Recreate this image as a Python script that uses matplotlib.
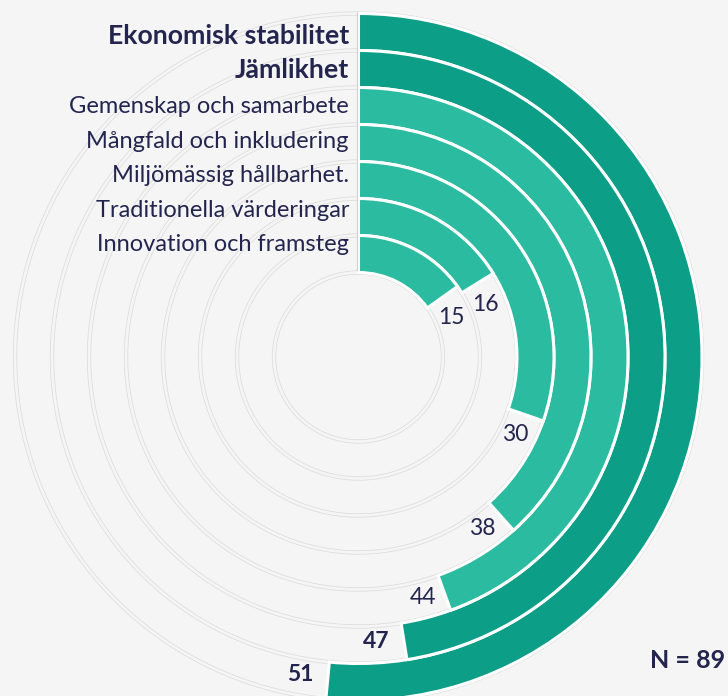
import numpy as np
import matplotlib
matplotlib.use("Agg")
import matplotlib.pyplot as plt
from matplotlib.lines import Line2D

# ---------------- data ----------------
categories = ["Ekonomisk stabilitet", "Jämlikhet", "Gemenskap och samarbete",
              "Mångfald och inkludering", "Miljömässig hållbarhet.",
              "Traditionella värderingar", "Innovation och framsteg"]
values = [51, 47, 44, 38, 30, 16, 15]
highlight = [True, True, False, False, False, False, False]
n_label = "N = 89"

# ---------------- style ----------------
BG = "#f5f5f5"
DARK = "#0d9e87"
LIGHT = "#2bbba0"
TEXT = "#23254f"
TRACK = "#dcdcdc"
FONT = ["Lato", "DejaVu Sans"]

W, H, DPI = 728, 696, 100
FULL = 99.0           # value that corresponds to a full circle
CX, CY = 358.5, 357.0  # centre in pixels (y from top)
HOLE = 84.5            # inner radius in px
PITCH = 37.0           # ring pitch in px
RAX = 352.0            # axis radius in px

plt.rcParams['font.family'] = FONT
fig = plt.figure(figsize=(W / DPI, H / DPI), dpi=DPI, facecolor=BG)
ax = fig.add_axes([(CX - RAX) / W, (H - CY - RAX) / H, 2 * RAX / W, 2 * RAX / H],
                  projection="polar")
ax.set_facecolor("none")
ax.set_theta_zero_location("N")
ax.set_theta_direction(-1)
ax.set_ylim(0, RAX)
ax.set_axis_off()

n = len(categories)
theta_full = np.linspace(0, 2 * np.pi, 720)

# track outlines (double thin lines)
for k in range(n + 1):
    r = HOLE + PITCH * k
    for d in (-1.75, 1.75):
        ax.plot(theta_full, np.full_like(theta_full, r + d), color=TRACK, lw=0.55, zorder=1)

# bars: innermost ring = last category
for i, (cat, v, hl) in enumerate(zip(categories, values, highlight)):
    k = n - 1 - i
    r0 = HOLE + PITCH * k
    span = v / FULL * 2 * np.pi
    ax.bar(0, PITCH, width=span, bottom=r0, align="edge",
           color=DARK if hl else LIGHT, edgecolor="white", linewidth=2.2, zorder=3)
    rmid = r0 + PITCH / 2 - 2.5
    pad = (22.0 + (6 if hl else 0)) / rmid
    ax.text(span + pad, rmid, str(v), ha="center", va="center",
            fontsize=16.5, color=TEXT, fontweight="bold" if hl else "normal", zorder=4)

# category labels (left of the start line)
for i, (cat, hl) in enumerate(zip(categories, highlight)):
    k = n - 1 - i
    y_base = 251 - 34.5 * k
    fig.text(349 / W, 1 - y_base / H, cat, ha="right", va="baseline",
             fontsize=19.2 if hl else 17, fontweight="bold" if hl else "normal",
             color=TEXT)

# start line
fig.add_artist(Line2D([356.5 / W, 356.5 / W], [1 - 12 / H, 1 - 270 / H],
                      color="#d0d0d0", lw=0.8))

fig.text(725 / W, 1 - 668 / H, n_label, ha="right", va="baseline",
         fontsize=18, fontweight="bold", color=TEXT)

fig.savefig("out.png", dpi=DPI, facecolor=BG)
